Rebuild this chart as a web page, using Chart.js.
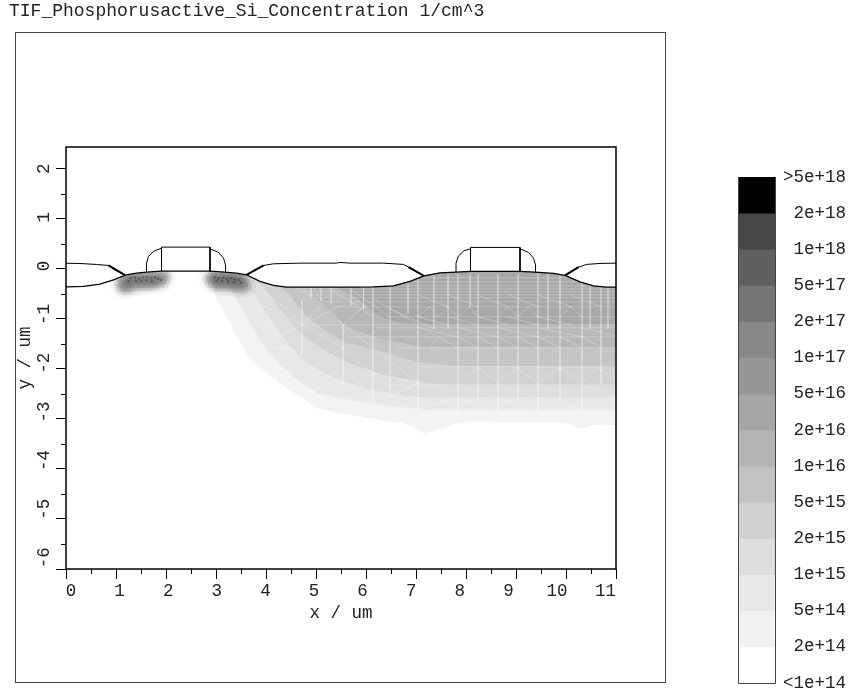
<!DOCTYPE html>
<html>
<head>
<meta charset="utf-8">
<title>TIF_Phosphorusactive_Si_Concentration</title>
<script src="https://cdn.jsdelivr.net/npm/chart.js@4/dist/chart.umd.min.js"></script>
<style>
    html, body { margin: 0; padding: 0; background: #fff; }
    #wrap { position: relative; width: 850px; height: 698px; overflow: hidden; }
    canvas { position: absolute; display: block; }
</style>
</head>
<body>
<div id="wrap">
    <canvas id="plot" width="850" height="698" style="left:0;top:0"></canvas>
    <canvas id="scale" width="120" height="538" style="left:730px;top:160px"></canvas>
</div>
<script>
const titleText = 'TIF_Phosphorusactive_Si_Concentration 1/cm^3';

// silicon surface, left to right (um)
const siSurface = [
    [0, -0.36], [0.35, -0.353], [0.68, -0.306], [0.95, -0.22], [1.18, -0.127], [1.41, -0.087], [1.61, -0.067],
    [1.91, -0.047], [2.88, -0.047], [3.18, -0.067], [3.41, -0.087], [3.61, -0.12], [3.88, -0.253], [4.15, -0.333],
    [4.41, -0.367], [5.68, -0.367], [6.15, -0.36], [6.55, -0.34], [6.88, -0.253], [7.16, -0.14], [7.48, -0.08],
    [7.8, -0.067], [8.09, -0.053], [9.08, -0.053], [9.38, -0.067], [9.75, -0.093], [9.98, -0.133], [10.28, -0.26],
    [10.55, -0.34], [10.81, -0.367], [11, -0.367],
];

// oxide tops and gate stacks
const oxideA = [[0, 0.11], [0.28, 0.106], [0.61, 0.086], [0.85, 0.066], [0.95, -0.006], [1.18, -0.127]];
const oxideB = [[3.61, -0.12], [3.95, 0.066], [4.15, 0.1], [4.68, 0.113], [5.41, 0.113], [5.48, 0.127], [5.68, 0.113], [6.35, 0.113], [6.75, 0.087], [6.85, 0.033], [7.16, -0.14]];
const oxideC = [[9.98, -0.133], [10.25, 0.033], [10.41, 0.087], [10.68, 0.107], [11, 0.113]];
const gateA = [[1.91, -0.047], [1.91, 0.433], [2.88, 0.433], [2.88, -0.047]];
const gateB = [[8.09, -0.053], [8.09, 0.427], [9.08, 0.427], [9.08, -0.053]];
const spacerAL = [[1.61, -0.067], [1.61, 0.113], [1.65, 0.247], [1.75, 0.347], [1.91, 0.413]];
const spacerAR = [[2.88, 0.4], [3.05, 0.327], [3.15, 0.213], [3.19, 0.08], [3.19, -0.067]];
const spacerBL = [[7.8, -0.067], [7.8, 0.113], [7.85, 0.26], [7.96, 0.36], [8.09, 0.4]];
const spacerBR = [[9.08, 0.4], [9.25, 0.327], [9.35, 0.213], [9.39, 0.08], [9.39, -0.067]];
const beakA = [[0.85, 0.066], [1.18, -0.127]];
const beakB = [[3.61, -0.12], [3.95, 0.066]];
const beakC = [[6.85, 0.033], [7.16, -0.14]];
const beakD = [[9.98, -0.133], [10.25, 0.033]];

// iso-concentration contours, outermost first
const contour2e14 = [
    [2.88, -0.06], [3.01, -0.62], [3.21, -0.95], [3.35, -1.22], [3.68, -1.82], [4.01, -2.08], [4.34, -2.35],
    [4.68, -2.55], [5.01, -2.78], [5.48, -2.88], [6.34, -3.04], [6.74, -3.07], [7.18, -3.29], [7.84, -3.08],
    [8.12, -3.05], [9.98, -3.07], [10.28, -3.19], [10.58, -3.12], [11, -3.12],
];
const contour5e14 = [
    [3.12, -0.12], [3.38, -0.56], [3.68, -1.08], [3.98, -1.58], [4.28, -1.92], [4.68, -2.26], [5.02, -2.48],
    [5.34, -2.56], [6.02, -2.68], [6.68, -2.76], [7.28, -2.82], [11, -2.82],
];
const contour1e15 = [
    [3.44, -0.12], [3.68, -0.42], [4.08, -0.98], [4.38, -1.42], [4.68, -1.78], [5.14, -2.08], [5.58, -2.26],
    [6.08, -2.42], [6.68, -2.52], [7.28, -2.58], [11, -2.58],
];
const contour2e15 = [
    [3.68, -0.16], [3.94, -0.36], [4.34, -0.88], [4.72, -1.32], [5.14, -1.62], [5.74, -1.92], [6.34, -2.12],
    [7.08, -2.26], [7.68, -2.34], [11, -2.34],
];
const contour5e15 = [
    [3.98, -0.16], [4.42, -0.46], [4.78, -0.92], [5.22, -1.26], [5.62, -1.48], [6.34, -1.66], [7.02, -1.86],
    [7.68, -1.94], [11, -1.96],
];
const contour1e16 = [[4.48, -0.22], [4.88, -0.46], [5.28, -0.86], [5.62, -1.16], [6.22, -1.38], [7.08, -1.56], [11, -1.58]];
const contour2e16 = [[5.28, -0.32], [5.82, -0.58], [6.22, -0.92], [6.58, -1.06], [7.08, -1.12], [11, -1.12]];
const contours = [contour2e14, contour5e14, contour1e15, contour2e15, contour5e15, contour1e16, contour2e16];
const contourColors = ['#f3f3f3', '#e8e8e8', '#dedede', '#d2d2d2', '#c5c5c5', '#b8b8b8', '#a8a8a8'];

// mesh edges that show through the doping, [x, yTop, yBottom]
const meshVerticals = [
    [7.64, -0.1, -1.2], [7.84, -0.1, -2.9], [8.08, -0.1, -0.76], [8.24, -0.1, -2.6], [8.64, -0.1, -2.85], [9.04, -0.1, -2.6],
    [9.44, -0.1, -2.85], [9.64, -0.1, -1.2], [9.88, -0.1, -2.6], [10.32, -0.1, -2.85], [10.48, -0.1, -1.2], [10.7, -0.1, -2.3], [10.84, -0.1, -1.2],
    [7.36, -0.1, -1.2], [7.04, -0.2, -2.8], [6.84, -0.2, -0.9], [6.48, -0.3, -2.55], [6.14, -0.3, -2.7],
    [5.54, -1.12, -2.3], [5.95, -0.3, -0.8], [5.7, -0.3, -0.75], [5.3, -0.3, -0.7], [5.1, -0.3, -0.65], [4.72, -0.62, -1.72], [4.9, -0.3, -0.6],
];
// [y, xStart, xEnd]
const meshHorizontals = [
    [-0.18, 7.1, 10.1], [-0.26, 6.9, 10.3], [-0.34, 6.7, 10.6], [-0.4, 4.6, 11], [-0.46, 4.7, 11], [-0.52, 4.8, 11], [-0.58, 5.0, 11],
    [-0.66, 5.2, 11], [-0.76, 5.3, 11], [-0.96, 6.4, 11], [-1.12, 3.9, 11], [-1.18, 6.2, 11], [-1.36, 5.6, 11],
    [-1.58, 3.4, 4.5], [-1.58, 6.6, 11], [-1.96, 6.8, 11], [-2.32, 6.4, 11], [-2.58, 6.9, 11],
];
// [x1, y1, x2, y2]
const meshDiagonals = [
    [7.04, -0.96, 7.28, -0.76], [7.28, -0.76, 7.44, -0.96], [7.44, -0.96, 7.64, -0.76], [7.64, -0.76, 7.84, -0.96],
    [7.84, -0.96, 8.08, -0.76], [8.08, -0.76, 8.24, -0.96], [8.64, -0.96, 8.84, -0.76], [8.84, -0.76, 9.04, -0.96],
    [9.04, -0.96, 9.24, -0.76], [9.24, -0.76, 9.44, -0.96], [9.88, -0.96, 10.1, -0.76], [10.1, -0.76, 10.32, -0.96],
    [7.28, -1.58, 7.44, -1.36], [7.44, -1.36, 7.84, -1.58], [7.84, -1.36, 8.24, -1.58], [8.24, -1.36, 8.64, -1.58],
    [8.64, -1.36, 9.04, -1.58], [9.04, -1.36, 9.44, -1.58], [9.44, -1.36, 9.88, -1.58], [9.88, -1.36, 10.32, -1.58],
    [10.32, -1.36, 10.7, -1.58], [7.84, -2.28, 8.24, -1.98], [8.24, -1.98, 8.64, -2.28], [8.64, -2.28, 9.02, -1.98],
    [9.02, -1.98, 9.44, -2.28], [9.44, -2.28, 9.88, -1.98], [9.88, -1.98, 10.32, -2.28], [10.32, -2.28, 10.64, -1.98],
    [10.64, -1.98, 11, -2.2], [7.84, -2.32, 8.64, -2.58], [8.64, -2.32, 9.44, -2.58], [9.44, -2.32, 10.32, -2.58],
    [10.32, -2.32, 11, -2.55], [7.04, -2.8, 7.84, -2.58], [7.84, -2.58, 8.64, -2.82], [8.64, -2.58, 9.44, -2.82],
    [9.44, -2.58, 10.32, -2.82], [7.04, -0.52, 7.64, -0.76], [7.64, -0.52, 8.24, -0.76], [8.24, -0.52, 8.84, -0.76],
    [8.84, -0.52, 9.44, -0.76], [9.44, -0.52, 10.1, -0.76], [10.1, -0.52, 10.7, -0.76], [7.04, -0.96, 7.64, -1.12],
    [7.64, -0.96, 8.24, -1.12], [8.24, -0.96, 8.84, -1.12], [8.84, -0.96, 9.44, -1.12], [9.44, -0.96, 10.1, -1.12],
    [7.04, -1.18, 7.84, -1.36], [7.84, -1.18, 8.64, -1.36], [8.64, -1.18, 9.44, -1.36], [9.44, -1.18, 10.32, -1.36],
    [10.32, -1.18, 11, -1.34],
    // fan below the left shoulder
    [4.72, -1.12, 3.9, -0.72], [4.72, -1.12, 4.3, -0.72], [4.72, -1.12, 5.12, -0.72], [4.72, -1.12, 5.54, -0.72],
    [4.72, -1.12, 3.9, -1.58], [4.72, -1.12, 5.54, -1.58], [5.54, -1.12, 6.14, -1.58], [5.54, -1.12, 6.14, -0.6],
    [5.54, -1.58, 4.72, -2.1], [5.54, -1.58, 6.14, -2.1], [5.54, -1.92, 4.9, -2.5], [5.54, -1.92, 6.14, -2.6],
    [4.72, -1.72, 4.1, -1.55], [4.72, -1.72, 4.4, -2.2], [4.1, -1.1, 3.6, -0.9], [4.1, -1.1, 3.7, -0.5], [4.3, -0.72, 3.8, -0.35],
    [6.14, -1.58, 7.04, -2.28], [6.14, -2.1, 7.04, -2.28], [6.14, -2.1, 7.04, -2.8], [6.48, -2.55, 7.04, -2.28],
    [6.14, -0.6, 7.04, -1.12], [6.48, -0.8, 7.36, -1.2], [5.3, -0.4, 6.14, -0.96], [5.0, -0.5, 5.54, -1.12], [5.7, -0.42, 6.48, -0.96],
];

// soft high-dose pockets under the gate edges
const pocketPoints = [
    [1.2, -0.14], [1.28, -0.14], [1.36, -0.13], [1.44, -0.12], [1.52, -0.12], [1.6, -0.12], [1.68, -0.12], [1.76, -0.12], [1.84, -0.12], [1.92, -0.12], [2.0, -0.12],
    [1.12, -0.2], [1.2, -0.2], [1.28, -0.2], [1.36, -0.2], [1.44, -0.2], [1.52, -0.2], [1.6, -0.2], [1.68, -0.2], [1.76, -0.2], [1.84, -0.2], [1.92, -0.2], [2.0, -0.2],
    [1.08, -0.27], [1.16, -0.27], [1.24, -0.27], [1.32, -0.27], [1.4, -0.27], [1.48, -0.27], [1.56, -0.27], [1.64, -0.27], [1.72, -0.27], [1.8, -0.27], [1.88, -0.27], [1.96, -0.27],
    [1.08, -0.34], [1.16, -0.34], [1.24, -0.34], [1.32, -0.34], [1.4, -0.34], [1.48, -0.34], [1.56, -0.33], [1.64, -0.33], [1.72, -0.32], [1.8, -0.31],
    [1.12, -0.41], [1.2, -0.41], [1.28, -0.41],
    [2.88, -0.12], [2.96, -0.12], [3.04, -0.12], [3.12, -0.12], [3.2, -0.13], [3.28, -0.14], [3.36, -0.15], [3.44, -0.16], [3.52, -0.18],
    [2.84, -0.2], [2.92, -0.2], [3.0, -0.2], [3.08, -0.2], [3.16, -0.2], [3.24, -0.2], [3.32, -0.2], [3.4, -0.21], [3.48, -0.22], [3.56, -0.24],
    [2.88, -0.27], [2.96, -0.27], [3.04, -0.27], [3.12, -0.27], [3.2, -0.27], [3.28, -0.28], [3.36, -0.28], [3.44, -0.29], [3.52, -0.3], [3.6, -0.31],
    [2.96, -0.34], [3.04, -0.34], [3.12, -0.35], [3.2, -0.35], [3.28, -0.36], [3.36, -0.37], [3.44, -0.38], [3.52, -0.39], [3.6, -0.39],
];
const pocketSpecks = [
    [1.3, -0.19], [1.38, -0.17], [1.46, -0.2], [1.54, -0.18], [1.62, -0.16], [1.7, -0.19], [1.78, -0.17], [1.84, -0.2],
    [1.4, -0.24], [1.5, -0.25], [1.6, -0.23], [1.72, -0.25], [1.9, -0.22], [1.25, -0.25],
    [2.98, -0.17], [3.06, -0.19], [3.14, -0.18], [3.22, -0.2], [3.3, -0.19], [3.38, -0.21], [3.46, -0.22],
    [3.02, -0.24], [3.12, -0.25], [3.24, -0.26], [3.36, -0.27], [3.5, -0.28],
];

const xTicksMinor = [0.5, 1.5, 2.5, 3.5, 4.5, 5.5, 6.5, 7.5, 8.5, 9.5, 10.5];
const yTicksMinor = [-5.5, -4.5, -3.5, -2.5, -1.5, -0.5, 0.5, 1.5];

const scaleLabels = ['>5e+18', '2e+18', '1e+18', '5e+17', '2e+17', '1e+17', '5e+16', '2e+16', '1e+16', '5e+15', '2e+15', '1e+15', '5e+14', '2e+14', '<1e+14'];
const scaleColors = ['#000000', '#474747', '#606060', '#757575', '#888888', '#969696', '#a5a5a5', '#b4b4b4', '#c2c2c2', '#d1d1d1', '#dddddd', '#e8e8e8', '#f2f2f2', '#ffffff'];

const FONT = 'Liberation Mono';
const INK = '#222222';
Chart.defaults.font.family = FONT;
Chart.defaults.color = INK;

const toXY = (pts) => pts.map(([x, y]) => ({ x, y }));
const GAP = { x: NaN, y: NaN };

const meshData = [];
meshVerticals.forEach(([x, y1, y2]) => meshData.push({ x, y: y1 }, { x, y: y2 }, GAP));
meshHorizontals.forEach(([y, x1, x2]) => meshData.push({ x: x1, y }, { x: x2, y }, GAP));
meshDiagonals.forEach(([x1, y1, x2, y2]) => meshData.push({ x: x1, y: y1 }, { x: x2, y: y2 }, GAP));

const lineSet = (pts, width) => ({
    data: toXY(pts), showLine: true, fill: false, borderColor: '#000', borderWidth: width, pointRadius: 0,
});
const pocketSet = (pts, radius, color) => ({
    data: toXY(pts), showLine: false, pointRadius: radius, pointBorderWidth: 0, pointBackgroundColor: color,
});

// painted first to last
const layers = [];
contours.forEach((pts, i) => layers.push({
    data: toXY(pts), showLine: true, fill: 'end', backgroundColor: contourColors[i], borderWidth: 0, pointRadius: 0,
}));
layers.push({
    data: meshData, showLine: true, spanGaps: false, fill: false, borderColor: 'rgba(255,255,255,0.26)', borderWidth: 1, pointRadius: 0,
});
layers.push(pocketSet(pocketPoints, 10, 'rgba(60,60,60,0.025)'));
layers.push(pocketSet(pocketPoints, 6, 'rgba(60,60,60,0.055)'));
layers.push(pocketSet(pocketPoints, 3, 'rgba(60,60,60,0.06)'));
layers.push(pocketSet(pocketSpecks, 1.2, 'rgba(40,40,40,0.35)'));
// everything above the silicon is blanked, the surface itself is the outline
layers.push({
    data: toXY(siSurface), showLine: true, fill: 'end', backgroundColor: '#fff', borderColor: '#000', borderWidth: 1.3, pointRadius: 0,
});
[oxideA, oxideB, oxideC, gateA, gateB, spacerAL, spacerAR, spacerBL, spacerBR].forEach((p) => layers.push(lineSet(p, 1)));
[beakA, beakB, beakC, beakD].forEach((p) => layers.push(lineSet(p, 2)));

// the tick labels of the reference run a little tighter than the ticks
const LABEL_SQUEEZE = 0.972;

const plotFurniture = {
    id: 'plotFurniture',
    afterLayout(chart) {
        const xs = chart.scales.x, ys = chart.scales.y;
        const x0 = xs.getPixelForValue(0), y0 = ys.getPixelForValue(2);
        xs.getLabelItems().forEach((item) => {
            const t = item.options.translation;
            t[0] = x0 + 5 + (t[0] - x0) * LABEL_SQUEEZE;
        });
        ys.getLabelItems().forEach((item) => {
            const t = item.options.translation;
            item.options.textAlign = 'center';
            t[0] = 44;
            t[1] = y0 + (t[1] - y0) * LABEL_SQUEEZE;
        });
    },
    afterDraw(chart) {
        const { ctx, chartArea: a, scales } = chart;
        ctx.save();
        ctx.strokeStyle = '#000';
        ctx.lineWidth = 1;
        ctx.beginPath();
        xTicksMinor.forEach((v) => {
            const p = Math.round(scales.x.getPixelForValue(v)) + 0.5;
            ctx.moveTo(p, a.bottom);
            ctx.lineTo(p, a.bottom + 5);
        });
        yTicksMinor.forEach((v) => {
            const p = Math.round(scales.y.getPixelForValue(v)) + 0.5;
            ctx.moveTo(a.left, p);
            ctx.lineTo(a.left - 5, p);
        });
        ctx.stroke();
        ctx.lineWidth = 1.5;
        ctx.strokeRect(a.left, a.top, a.right - a.left, a.bottom - a.top);
        ctx.strokeStyle = '#444';
        ctx.lineWidth = 1;
        ctx.strokeRect(15.5, 32.5, 650, 650);
        ctx.restore();
    },
};

new Chart(document.getElementById('plot'), {
    type: 'scatter',
    data: { datasets: layers.map((d, i) => ({ ...d, order: layers.length - i })) },
    plugins: [plotFurniture],
    options: {
        responsive: false,
        animation: false,
        layout: { padding: { left: 9, right: 234, top: 0, bottom: 0 } },
        plugins: {
            legend: { display: false },
            tooltip: { enabled: false },
            title: {
                display: true,
                text: titleText,
                align: 'start',
                color: INK,
                font: { family: FONT, size: 18, weight: 'normal', lineHeight: 1.2 },
                padding: { top: 0, bottom: 125.4 },
            },
        },
        scales: {
            x: {
                type: 'linear',
                min: 0,
                max: 11,
                afterFit: (s) => { s.height = 129; },
                grid: { drawOnChartArea: false, color: '#000', tickLength: 10, lineWidth: 1 },
                border: { display: false },
                ticks: {
                    stepSize: 1, padding: 2, maxRotation: 0, autoSkip: false, includeBounds: false,
                    font: { size: 17.5 }, color: INK,
                },
                title: {
                    display: true, text: 'x / um', color: INK, font: { family: FONT, size: 17.5 },
                    padding: { top: 0, bottom: 74 },
                },
            },
            y: {
                type: 'linear',
                min: -6,
                max: 2.434,
                afterFit: (s) => { s.width = 57; },
                grid: { drawOnChartArea: false, color: '#000', tickLength: 10, lineWidth: 1 },
                border: { display: false },
                ticks: {
                    stepSize: 1, padding: 2, minRotation: 90, maxRotation: 90, autoSkip: false, includeBounds: false,
                    font: { size: 17.5 }, color: INK,
                },
                title: {
                    display: true, text: 'y / um', color: INK, font: { family: FONT, size: 17.5 },
                    padding: { top: 6, bottom: 0 },
                },
            },
        },
    },
});

const scaleFrame = {
    id: 'scaleFrame',
    afterDraw(chart) {
        const { ctx, chartArea: a } = chart;
        ctx.save();
        ctx.strokeStyle = '#444';
        ctx.lineWidth = 1;
        ctx.beginPath();
        ctx.moveTo(a.left - 0.5, a.top);
        ctx.lineTo(a.left - 0.5, a.bottom + 0.5);
        ctx.lineTo(a.right + 0.5, a.bottom + 0.5);
        ctx.lineTo(a.right + 0.5, a.top);
        ctx.stroke();
        ctx.restore();
    },
};

new Chart(document.getElementById('scale'), {
    type: 'bar',
    data: {
        labels: ['bands'],
        datasets: scaleColors.map((color) => ({ data: [1], backgroundColor: color, barPercentage: 1, categoryPercentage: 1, borderWidth: 0 })),
    },
    plugins: [scaleFrame],
    options: {
        responsive: false,
        animation: false,
        layout: { padding: { left: 9, right: 4, top: 17, bottom: 15 } },
        plugins: { legend: { display: false }, tooltip: { enabled: false } },
        scales: {
            x: { stacked: true, display: false },
            y: {
                stacked: true,
                position: 'right',
                reverse: true,
                min: 0,
                max: 14,
                afterFit: (s) => { s.width = 71; },
                grid: { display: false },
                border: { display: false },
                ticks: {
                    stepSize: 1, autoSkip: false, padding: 4, crossAlign: 'far', color: INK,
                    font: { size: 17.5 },
                    callback: (v) => scaleLabels[v],
                },
            },
        },
    },
});
</script>
</body>
</html>
